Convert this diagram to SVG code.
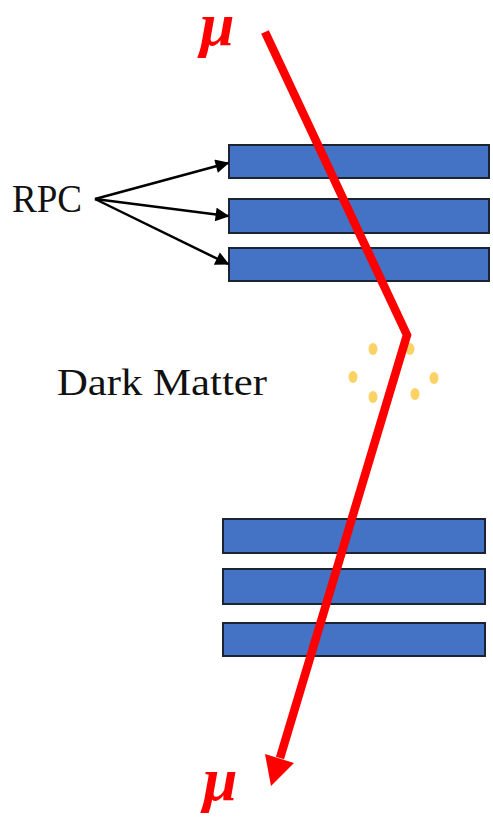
<svg xmlns="http://www.w3.org/2000/svg" width="493" height="817" viewBox="0 0 493 817">
  <style>
    .rpc { fill: #4472C4; stroke: #1C2433; stroke-width: 2; }
    .label { font-family: "Liberation Serif", "DejaVu Serif", serif; fill: #111; }
    .mu { font-family: "Liberation Serif", "DejaVu Serif", serif; font-style: italic; font-weight: bold; fill: #FF0000; font-size: 62px; }
    .dm { fill: #FAD266; }
    .ptr { stroke: #000; stroke-width: 2.5; fill: none; marker-end: url(#head); }
    .track { stroke: #FF0000; stroke-width: 8.5; fill: none; stroke-linejoin: miter; }
  </style>
  <defs>
    <marker id="head" viewBox="0 0 10 10" refX="9" refY="5" markerWidth="6" markerHeight="5.5" orient="auto" markerUnits="strokeWidth">
      <path d="M0,0 L10,5 L0,10 Z" fill="#000"/>
    </marker>
  </defs>

  <rect width="493" height="817" fill="#fff"/>

  <!-- upper detector stack -->
  <g id="rpc-top-1"><rect class="rpc" x="229" y="145" width="260" height="33"/></g>
  <g id="rpc-top-2"><rect class="rpc" x="229" y="199" width="260" height="34"/></g>
  <g id="rpc-top-3"><rect class="rpc" x="229" y="248" width="260" height="33"/></g>

  <!-- lower detector stack -->
  <g id="rpc-bot-1"><rect class="rpc" x="223" y="519" width="262" height="34"/></g>
  <g id="rpc-bot-2"><rect class="rpc" x="223" y="569" width="262" height="35"/></g>
  <g id="rpc-bot-3"><rect class="rpc" x="223" y="623" width="262" height="33"/></g>

  <!-- dark matter particles -->
  <g id="dark-matter-particles">
    <ellipse class="dm" cx="373" cy="349" rx="4.5" ry="6"/>
    <ellipse class="dm" cx="410" cy="349" rx="4.5" ry="6"/>
    <ellipse class="dm" cx="353" cy="377" rx="4.5" ry="6"/>
    <ellipse class="dm" cx="434" cy="378" rx="4.5" ry="6"/>
    <ellipse class="dm" cx="373" cy="397" rx="4.5" ry="6"/>
    <ellipse class="dm" cx="415" cy="394" rx="4.5" ry="6"/>
  </g>

  <!-- labels -->
  <g id="label-rpc"><text class="label" x="12" y="212" font-size="40" textLength="70" lengthAdjust="spacingAndGlyphs">RPC</text></g>
  <g id="label-dark-matter"><text class="label" x="57" y="395" font-size="38" textLength="210" lengthAdjust="spacingAndGlyphs">Dark Matter</text></g>
  <g id="label-mu-in"><text class="mu" x="200" y="45">μ</text></g>
  <g id="label-mu-out"><text class="mu" x="203" y="800">μ</text></g>

  <!-- connectors -->
  <g id="connectors">
    <line class="ptr" x1="95" y1="199" x2="228" y2="163"/>
    <line class="ptr" x1="95" y1="199" x2="228" y2="216"/>
    <line class="ptr" x1="95" y1="199" x2="228" y2="264"/>

    <!-- muon track with scattering kink -->
    <polyline class="track" points="265,32 407,335 280,758"/>
    <polygon points="265,754 294,763 271,786" fill="#FF0000"/>
  </g>
</svg>
